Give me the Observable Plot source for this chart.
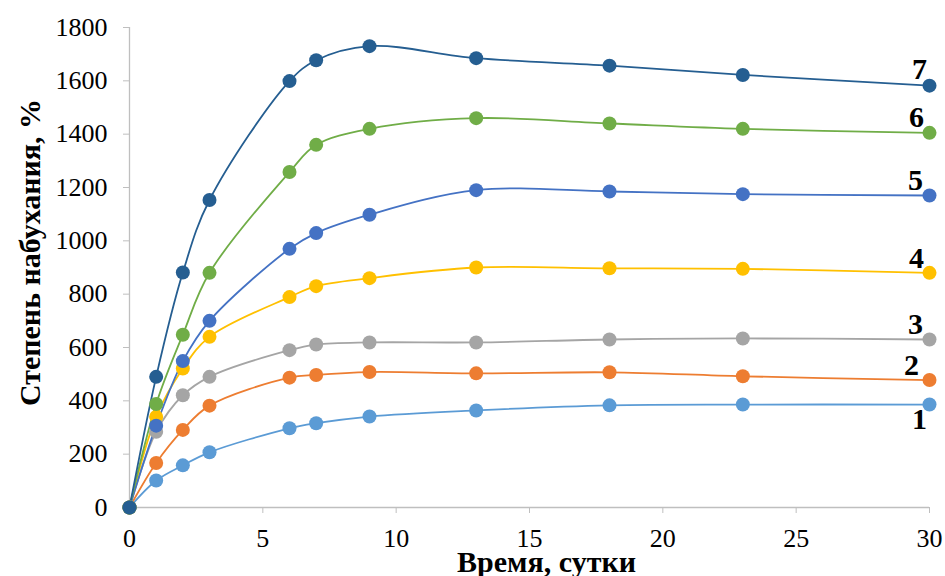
<!DOCTYPE html>
<html>
<head>
<meta charset="utf-8">
<script src="https://cdn.jsdelivr.net/npm/d3@7"></script>
<script src="https://cdn.jsdelivr.net/npm/@observablehq/plot@0.6"></script>
<style>
  html, body { margin: 0; padding: 0; background: #fff; }
  #chart svg { display: block; }
</style>
</head>
<body>
<div id="chart"></div>
<script>
const days = [0, 1, 2, 3, 6, 7, 9, 13, 18, 23, 30];
const series1 = [0, 101, 158, 207, 297, 316, 341, 364, 383, 386, 386];
const series2 = [0, 167, 291, 382, 487, 497, 508, 503, 507, 492, 478];
const series3 = [0, 284, 421, 490, 590, 611, 619, 619, 630, 634, 630];
const series4 = [0, 340, 521, 640, 789, 830, 860, 900, 897, 895, 880];
const series5 = [0, 307, 549, 700, 970, 1029, 1098, 1190, 1185, 1175, 1170];
const series6 = [0, 388, 648, 880, 1258, 1360, 1420, 1460, 1440, 1420, 1405];
const series7 = [0, 490, 881, 1153, 1599, 1677, 1730, 1685, 1657, 1622, 1582];
const seriesNames = ["1", "2", "3", "4", "5", "6", "7"];
const seriesColors = ["#5B9BD5", "#ED7D31", "#A5A5A5", "#FFC000", "#4472C4", "#70AD47", "#255E91"];
const xTicks = [0, 5, 10, 15, 20, 25, 30];
const yTicks = [0, 200, 400, 600, 800, 1000, 1200, 1400, 1600, 1800];
const xTitle = "Время, сутки";
const yTitle = "Степень набухания, %";

const allSeries = [series1, series2, series3, series4, series5, series6, series7];
const rows = [];
allSeries.forEach((vals, i) => {
  vals.forEach((v, j) => rows.push({series: seriesNames[i], day: days[j], value: v}));
});
const lastPoints = allSeries.map((vals, i) => ({series: seriesNames[i], day: days[days.length - 1], value: vals[vals.length - 1]}));

// label placement relative to each series' last point
const labelDy = {"1": 15, "2": -15, "3": -15, "4": -14, "5": -15, "6": -15, "7": -16};
const labelDx = {"1": -10, "2": -18, "3": -14, "4": -13, "5": -14, "6": -13, "7": -10};

const SERIF = "'Liberation Serif', 'Times New Roman', Times, serif";

const chart = Plot.plot({
  width: 945,
  height: 576,
  marginLeft: 129,
  marginRight: 16,
  marginTop: 27,
  marginBottom: 69,
  style: {fontFamily: SERIF, fontSize: "26px", color: "black", background: "white"},
  x: {domain: [0, 30]},
  y: {domain: [0, 1800]},
  color: {domain: seriesNames, range: seriesColors},
  marks: [
    Plot.ruleY([0], {stroke: "#BFBFBF", strokeWidth: 1.3}),
    Plot.ruleX([0], {stroke: "#BFBFBF", strokeWidth: 1.3}),
    Plot.axisX({ticks: xTicks, tickFormat: (d) => String(d), tickSize: 6, tickPadding: 15, stroke: "#BFBFBF", fill: "black", label: null, fontSize: 26}),
    Plot.axisY({ticks: yTicks, tickFormat: (d) => String(d), tickSize: 6, tickPadding: 16, stroke: "#BFBFBF", fill: "black", label: null, fontSize: 26}),
    Plot.line(rows, {x: "day", y: "value", z: "series", stroke: "series", strokeWidth: 1.8, curve: "catmull-rom"}),
    Plot.dot(rows, {x: "day", y: "value", fill: "series", r: 7}),
    ...lastPoints.map((d) => Plot.text([d], {
      x: "day", y: "value", text: "series",
      dx: labelDx[d.series], dy: labelDy[d.series],
      fontSize: 30, fontWeight: "bold", fill: "black"
    })),
    Plot.text([yTitle], {frameAnchor: "left", textAnchor: "middle", lineAnchor: "middle", rotate: -90, dx: -99, dy: -15, fontSize: 30, fontWeight: "bold", fill: "black"}),
    Plot.text([xTitle], {frameAnchor: "bottom", textAnchor: "middle", lineAnchor: "middle", dx: 17, dy: 55, fontSize: 30, fontWeight: "bold", fill: "black"})
  ]
});
// make sure every text element uses the serif face
d3.select(chart).style("font-family", SERIF);
d3.select(chart).selectAll("g, text").style("font-family", SERIF);
document.getElementById("chart").appendChild(chart);
</script>
</body>
</html>
